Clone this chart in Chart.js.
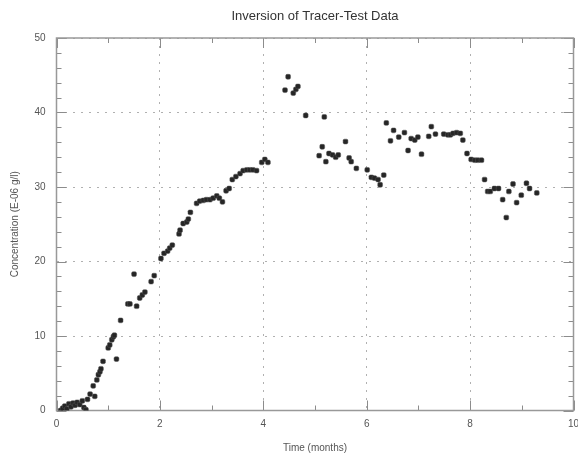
<!DOCTYPE html>
<html>
<head>
<meta charset="utf-8">
<script src="https://cdn.jsdelivr.net/npm/chart.js@4/dist/chart.umd.min.js"></script>
<style>
  html, body { margin: 0; padding: 0; background: #fff; }
  #wrap { width: 578px; height: 460px; }
</style>
</head>
<body>
<div id="wrap"><canvas id="chart"></canvas></div>
<script>
const TITLE = 'Inversion of Tracer-Test Data';
const X_LABEL = 'Time (months)';
const Y_LABEL = 'Concentration (E-06 g/l)';

const xTicks = [0, 2, 4, 6, 8, 10];
const yTicks = [0, 10, 20, 30, 40, 50];

const timeMonths = [
  0.08, 0.12, 0.16, 0.20, 0.24, 0.28, 0.32, 0.36, 0.40, 0.45, 0.50, 0.53, 0.57, 0.60,
  0.65, 0.71, 0.74, 0.78, 0.81, 0.84, 0.86, 0.90, 1.00, 1.03, 1.07, 1.10, 1.12, 1.16,
  1.24, 1.38, 1.42, 1.50, 1.55, 1.61, 1.66, 1.71, 1.83, 1.89, 2.02, 2.08, 2.15, 2.19,
  2.24, 2.37, 2.39, 2.45, 2.52, 2.55, 2.59, 2.71, 2.77, 2.84, 2.90, 2.97, 3.03, 3.10,
  3.15, 3.21, 3.28, 3.34, 3.40, 3.47, 3.55, 3.61, 3.68, 3.74, 3.80, 3.87, 3.97, 4.03, 4.09,
  4.42, 4.48, 4.58, 4.63, 4.67, 4.82, 5.08, 5.14, 5.18, 5.21, 5.27, 5.34, 5.40, 5.45,
  5.59, 5.66, 5.70, 5.80, 6.01, 6.09, 6.15, 6.22, 6.26, 6.33, 6.38, 6.46, 6.52, 6.62,
  6.73, 6.80, 6.86, 6.93, 6.99, 7.06, 7.20, 7.25, 7.33, 7.49, 7.57, 7.62, 7.67, 7.74,
  7.81, 7.86, 7.94, 8.02, 8.09, 8.15, 8.22, 8.28, 8.34, 8.39, 8.47, 8.55, 8.63, 8.70,
  8.75, 8.83, 8.90, 8.99, 9.09, 9.15, 9.29
];

const concentration = [
  0.0, 0.3, 0.6, 0.2, 0.9, 0.5, 1.0, 0.7, 1.1, 0.8, 1.3, 0.4, 0.1, 1.5,
  2.2, 3.3, 1.9, 4.1, 4.8, 5.2, 5.6, 6.6, 8.4, 8.8, 9.5, 9.9, 10.1, 6.9,
  12.1, 14.3, 14.3, 18.3, 14.0, 15.1, 15.5, 15.9, 17.3, 18.1, 20.4, 21.1, 21.4, 21.8,
  22.2, 23.7, 24.2, 25.1, 25.3, 25.7, 26.6, 27.8, 28.1, 28.2, 28.3, 28.3, 28.5, 28.8,
  28.5, 28.0, 29.5, 29.8, 31.0, 31.4, 31.8, 32.2, 32.3, 32.3, 32.3, 32.2, 33.3, 33.7, 33.3,
  43.0, 44.8, 42.6, 43.1, 43.5, 39.6, 34.2, 35.4, 39.4, 33.4, 34.5, 34.3, 34.0, 34.3,
  36.1, 33.9, 33.4, 32.5, 32.3, 31.3, 31.2, 31.0, 30.3, 31.6, 38.6, 36.2, 37.6, 36.7,
  37.3, 34.9, 36.5, 36.3, 36.7, 34.4, 36.8, 38.1, 37.1, 37.1, 37.0, 37.0, 37.2, 37.3,
  37.2, 36.3, 34.5, 33.7, 33.6, 33.6, 33.6, 31.0, 29.4, 29.4, 29.8, 29.8, 28.3, 25.9,
  29.4, 30.4, 27.9, 28.9, 30.5, 29.8, 29.2
];

const points = timeMonths.map((t, i) => ({ x: t, y: concentration[i] }));

// frame, inward ticks on all four sides, and the title over the plot area
const framePlugin = {
  id: 'frameTicks',
  beforeDatasetsDraw(chart) {
    const { ctx, chartArea, scales } = chart;
    const { left, right, top, bottom } = chartArea;
    ctx.save();
    ctx.strokeStyle = '#8c8c8c';
    ctx.lineWidth = 1;
    for (let v = 0; v <= 10; v += 1) {
      const px = Math.round(scales.x.getPixelForValue(v)) + 0.5;
      const len = v % 2 === 0 ? 10 : 5;
      ctx.beginPath();
      ctx.moveTo(px, bottom);
      ctx.lineTo(px, bottom - len);
      ctx.moveTo(px, top);
      ctx.lineTo(px, top + len);
      ctx.stroke();
    }
    for (let v = 0; v <= 50; v += 2) {
      const py = Math.round(scales.y.getPixelForValue(v)) + 0.5;
      const len = v % 10 === 0 ? 10 : 5;
      ctx.beginPath();
      ctx.moveTo(left, py);
      ctx.lineTo(left + len, py);
      ctx.moveTo(right, py);
      ctx.lineTo(right - len, py);
      ctx.stroke();
    }
    ctx.strokeStyle = '#999';
    ctx.lineWidth = 1.5;
    ctx.strokeRect(left, top, right - left, bottom - top);
    ctx.restore();
  },
  afterDraw(chart) {
    const { ctx, chartArea } = chart;
    ctx.save();
    ctx.font = '13px "Liberation Sans", Arial, sans-serif';
    ctx.fillStyle = '#333';
    ctx.textAlign = 'center';
    ctx.textBaseline = 'middle';
    ctx.fillText(TITLE, (chartArea.left + chartArea.right) / 2, 16);
    ctx.restore();
  },
};

const tickFont = { family: '"Liberation Sans", Arial, sans-serif', size: 10 };

new Chart(document.getElementById('chart').getContext('2d'), {
  type: 'scatter',
  data: {
    datasets: [
      {
        label: 'Concentration',
        data: points,
        pointStyle: 'rectRounded',
        pointRadius: 2.8,
        pointBackgroundColor: '#262626',
        pointBorderColor: '#555',
        pointBorderWidth: 0.5,
      },
    ],
  },
  options: {
    responsive: true,
    maintainAspectRatio: false,
    animation: false,
    layout: { padding: { top: 38, right: 4, left: 0, bottom: 0 } },
    plugins: {
      legend: { display: false },
      tooltip: { enabled: false },
    },
    scales: {
      x: {
        type: 'linear',
        min: 0,
        max: 10,
        afterBuildTicks: (scale) => { scale.ticks = xTicks.map((v) => ({ value: v })); },
        afterFit: (scale) => {
          scale.height = 49.5;
          scale.paddingLeft = 0;
          scale.paddingRight = 0;
        },
        ticks: { color: '#555', font: tickFont, padding: 8 },
        grid: { color: '#b0b0b0', drawTicks: false },
        border: { display: false, dash: [2, 6] },
        title: { display: true, text: X_LABEL, color: '#555', font: tickFont, padding: { top: 4, bottom: 6 } },
      },
      y: {
        type: 'linear',
        min: 0,
        max: 50,
        afterBuildTicks: (scale) => { scale.ticks = yTicks.map((v) => ({ value: v })); },
        afterFit: (scale) => {
          scale.width = 56.5;
          scale.paddingTop = 0;
          scale.paddingBottom = 0;
        },
        ticks: { color: '#555', font: tickFont, padding: 11 },
        grid: { color: '#b0b0b0', drawTicks: false },
        border: { display: false, dash: [2, 6] },
        title: { display: true, text: Y_LABEL, color: '#555', font: tickFont, padding: { top: 9, bottom: 4 } },
      },
    },
  },
  plugins: [framePlugin],
});
</script>
</body>
</html>
